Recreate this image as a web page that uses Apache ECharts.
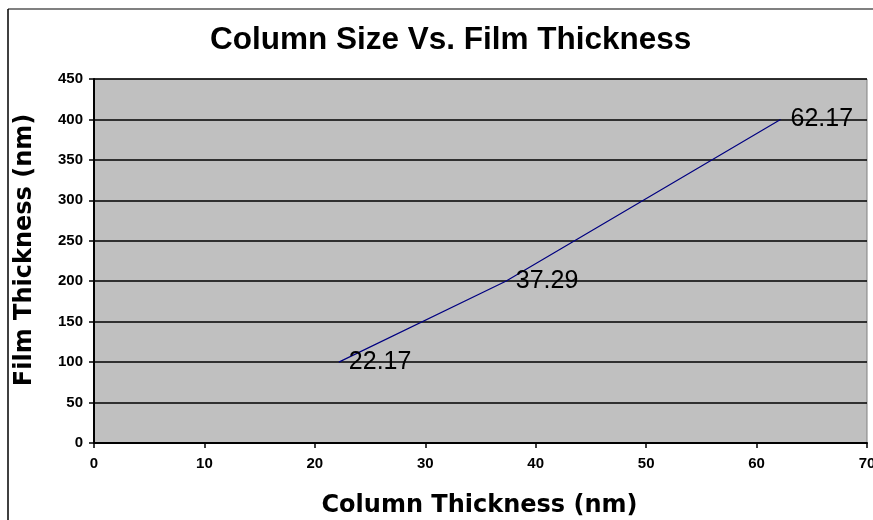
<!DOCTYPE html>
<html>
<head>
<meta charset="utf-8">
<script src="https://cdn.jsdelivr.net/npm/echarts@6/dist/echarts.min.js"></script>
<style>
  html, body { margin: 0; padding: 0; background: #ffffff; }
  #chart { width: 873px; height: 520px; }
</style>
</head>
<body>
<div id="chart"></div>
<script>
// Column thickness (nm) against film thickness (nm)
const columnThickness = [22.17, 37.29, 62.17];
const filmThickness = [100, 200, 400];
const pointLabels = ['22.17', '37.29', '62.17'];

const chart = echarts.init(document.getElementById('chart'), null, { renderer: 'canvas' });

const seriesData = columnThickness.map((x, i) => [x, filmThickness[i]]);

const font = 'Liberation Sans, Arial, sans-serif';
const wideFont = 'DejaVu Sans, Verdana, sans-serif';

chart.setOption({
  backgroundColor: '#ffffff',
  animation: false,
  title: {
    text: 'Column Size Vs. Film Thickness',
    left: 205,
    top: 19,
    textStyle: { fontFamily: font, fontSize: 31.5, fontWeight: 'bold', color: '#000000' }
  },
  graphic: [
    { type: 'line', shape: { x1: 8, y1: 9, x2: 873, y2: 9 }, style: { stroke: '#808080', lineWidth: 2 } },
    { type: 'line', shape: { x1: 8, y1: 9, x2: 8, y2: 520 }, style: { stroke: '#000000', lineWidth: 1.5 } }
  ],
  grid: {
    left: 94, right: 6, top: 79, bottom: 77,
    outerBoundsMode: 'none',
    containLabel: false,
    show: true,
    backgroundColor: '#c0c0c0',
    borderColor: '#808080',
    borderWidth: 1
  },
  xAxis: {
    type: 'value',
    min: 0, max: 70, interval: 10,
    name: 'Column Thickness (nm)',
    nameLocation: 'middle',
    nameGap: 51,
    nameTextStyle: { fontFamily: wideFont, fontSize: 24, fontWeight: 'bold', color: '#000000', padding: [0, 2, 0, 0] },
    axisLine: { show: true, onZero: false, lineStyle: { color: '#000000', width: 2 } },
    axisTick: { show: true, inside: false, length: 5, lineStyle: { color: '#000000', width: 1.5 } },
    axisLabel: { fontFamily: font, fontSize: 15, fontWeight: 'bold', color: '#000000', margin: 13 },
    splitLine: { show: false }
  },
  yAxis: {
    type: 'value',
    min: 0, max: 450, interval: 50,
    name: 'Film Thickness (nm)',
    nameLocation: 'middle',
    nameGap: 57,
    nameTextStyle: { fontFamily: wideFont, fontSize: 24, fontWeight: 'bold', color: '#000000', padding: [0, 0, 0, 22] },
    axisLine: { show: true, lineStyle: { color: '#000000', width: 2 } },
    axisTick: { show: true, inside: false, length: 5, lineStyle: { color: '#000000', width: 1.5 } },
    axisLabel: { fontFamily: font, fontSize: 15, fontWeight: 'bold', color: '#000000', margin: 11 },
    splitLine: { show: true, lineStyle: { color: '#000000', width: 1.5 } }
  },
  series: [{
    type: 'line',
    data: seriesData,
    symbol: 'circle',
    symbolSize: 2,
    showSymbol: true,
    itemStyle: { color: 'rgba(0,0,0,0)', borderWidth: 0 },
    lineStyle: { color: '#000080', width: 1.2 },
    label: {
      show: true,
      position: 'right',
      distance: 9,
      formatter: (p) => pointLabels[p.dataIndex],
      fontFamily: font,
      fontSize: 25,
      color: '#000000'
    }
  }]
});
</script>
</body>
</html>
